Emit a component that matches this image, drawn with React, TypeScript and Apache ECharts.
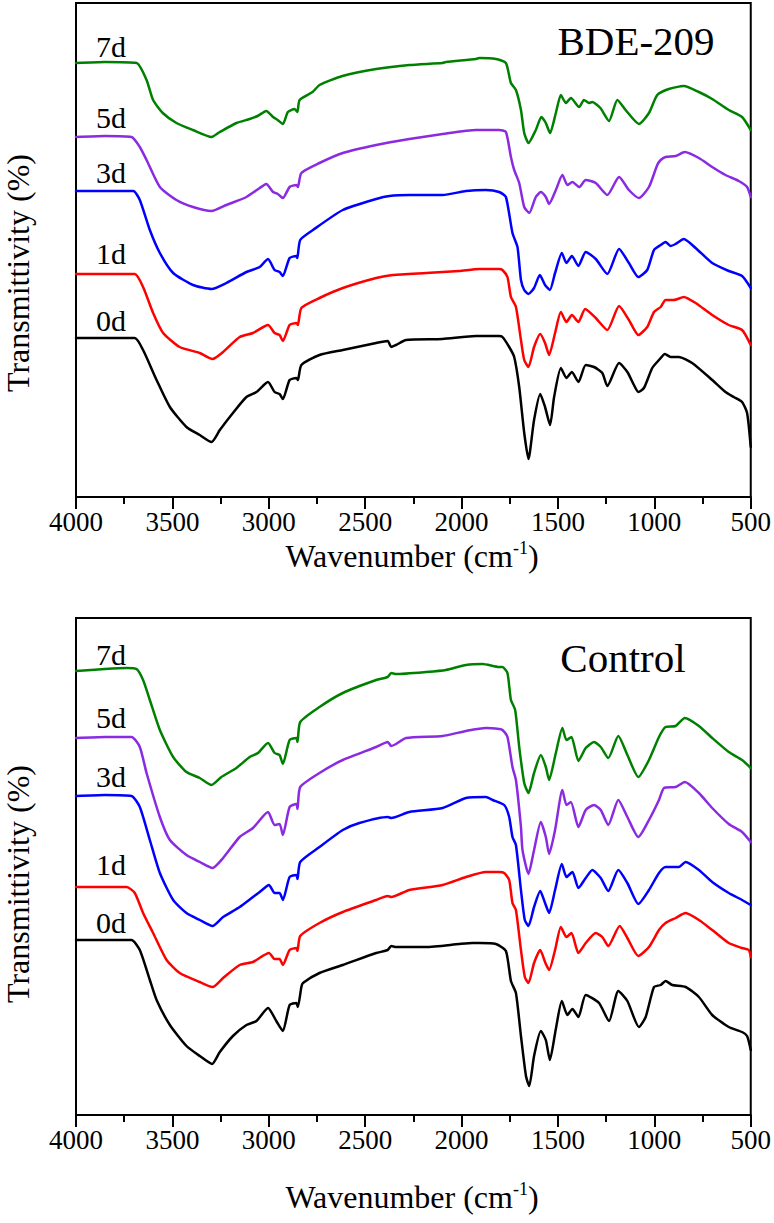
import { useEffect, useRef } from "react";
import * as echarts from "echarts";

type P = [number, number];

// ---- Panel 1 (BDE-209): [wavenumber cm-1, offset transmittance (a.u.)]
const bde0d: P[] = [[4000,159],[3850,159],[3695,159],[3652,147],[3582,117],[3513,90],[3427,70],[3358,62],[3297,55],[3254,67],[3186,84],[3116,100],[3064,105],[3004,115],[2970,105],[2944,103],[2927,98],[2892,117],[2857,119],[2849,117],[2831,132],[2737,142],[2616,147],[2443,154],[2383,156],[2365,150],[2340,152],[2288,157],[2100,158],[1925,161],[1805,161],[1788,160],[1753,150],[1727,140],[1701,110],[1675,64],[1653,38],[1624,77],[1592,103],[1567,90],[1541,72],[1520,100],[1485,129],[1456,119],[1428,125],[1394,115],[1356,132],[1313,130],[1270,124],[1244,111],[1183,134],[1140,125],[1106,112],[1083,105],[1054,109],[1011,129],[976,137],[945,143],[916,140],[873,140],[804,134],[700,117],[631,105],[588,100],[545,95],[519,84],[500,50]];
const bde1d: P[] = [[4000,223],[3850,223],[3695,223],[3652,210],[3600,184],[3548,164],[3462,150],[3358,144],[3292,138],[3237,145],[3151,160],[3082,164],[3004,172],[2970,164],[2944,162],[2927,156],[2892,172],[2857,174],[2849,172],[2831,189],[2737,199],[2616,209],[2443,219],[2357,222],[2184,224],[2012,226],[1908,228],[1805,228],[1788,227],[1762,220],[1744,200],[1718,190],[1692,157],[1675,137],[1653,130],[1624,150],[1592,163],[1567,154],[1546,142],[1515,164],[1485,185],[1456,175],[1428,182],[1394,175],[1359,188],[1304,179],[1244,167],[1183,191],[1132,177],[1083,162],[1037,170],[1002,185],[967,190],[942,197],[899,197],[847,200],[786,194],[700,182],[614,172],[545,167],[500,152]];
const bde3d: P[] = [[4000,306],[3850,306],[3703,306],[3669,297],[3617,267],[3565,244],[3496,224],[3393,212],[3297,208],[3220,214],[3116,225],[3047,230],[3004,238],[2970,227],[2944,225],[2927,221],[2892,239],[2857,241],[2852,239],[2837,257],[2771,267],[2616,287],[2443,298],[2374,301],[2271,302],[2098,302],[1977,306],[1874,307],[1805,305],[1770,300],[1736,264],[1710,250],[1692,217],[1675,207],[1653,203],[1624,209],[1594,222],[1567,212],[1542,207],[1515,224],[1480,244],[1456,234],[1428,241],[1394,231],[1356,245],[1304,238],[1244,223],[1183,248],[1132,234],[1083,220],[1037,227],[1002,247],[967,252],[942,255],[916,251],[890,253],[847,258],[786,249],[700,234],[614,226],[545,221],[500,209]];
const bde5d: P[] = [[4000,360],[3850,361],[3712,360],[3669,350],[3634,337],[3565,310],[3479,297],[3393,290],[3297,286],[3220,292],[3116,300],[3047,309],[3013,313],[2978,305],[2953,303],[2927,299],[2892,310],[2857,312],[2849,310],[2831,324],[2737,334],[2616,344],[2443,352],[2271,358],[2098,363],[1925,367],[1805,367],[1770,365],[1744,340],[1727,327],[1701,314],[1675,290],[1649,284],[1615,300],[1589,305],[1563,300],[1546,293],[1511,307],[1477,322],[1451,312],[1425,315],[1390,310],[1356,317],[1304,314],[1244,302],[1183,320],[1132,307],[1080,299],[1028,310],[985,332],[967,337],[942,340],[890,341],[842,345],[769,339],[700,330],[631,322],[562,316],[519,310],[500,300]];
const bde7d: P[] = [[4000,434],[3850,435],[3686,434],[3634,417],[3600,397],[3550,384],[3479,374],[3394,367],[3297,360],[3254,365],[3168,374],[3099,378],[3058,381],[3013,386],[2978,380],[2954,377],[2927,373],[2901,385],[2866,388],[2852,385],[2840,397],[2773,405],[2737,412],[2618,421],[2443,428],[2271,432],[2100,434],[2081,435],[1925,438],[1908,439],[1822,438],[1770,434],[1744,414],[1718,407],[1692,387],[1675,364],[1653,354],[1615,367],[1586,380],[1563,374],[1541,364],[1511,384],[1485,402],[1459,394],[1433,399],[1390,390],[1365,397],[1339,394],[1322,395],[1280,389],[1235,376],[1192,397],[1149,387],[1080,373],[1028,384],[985,402],[925,408],[847,411],[769,405],[700,398],[614,387],[545,380],[500,367]];

// ---- Panel 2 (Control)
const ctl0d: P[] = [[4000,175],[3850,175],[3712,175],[3669,165],[3617,135],[3582,115],[3513,90],[3427,69],[3358,59],[3294,51],[3254,63],[3186,79],[3116,90],[3064,94],[3004,107],[2961,94],[2927,84],[2892,110],[2857,112],[2849,108],[2831,128],[2823,132],[2737,142],[2616,150],[2443,162],[2383,165],[2365,169],[2340,168],[2184,168],[2012,171],[1943,172],[1908,172],[1822,171],[1770,164],[1744,134],[1718,122],[1692,79],[1666,39],[1649,29],[1624,59],[1589,84],[1563,75],[1542,55],[1511,86],[1480,114],[1451,100],[1425,106],[1394,98],[1356,120],[1287,112],[1235,94],[1187,124],[1140,114],[1080,88],[1045,98],[1002,128],[967,130],[942,134],[907,130],[838,128],[769,118],[700,100],[614,88],[545,83],[519,79],[500,65]];
const ctl1d: P[] = [[4000,228],[3850,228],[3737,228],[3695,222],[3652,202],[3600,182],[3530,155],[3462,142],[3358,133],[3292,128],[3237,137],[3151,150],[3082,153],[2999,162],[2970,156],[2944,156],[2927,150],[2892,165],[2857,167],[2851,164],[2837,179],[2737,192],[2616,203],[2443,215],[2383,219],[2365,218],[2271,225],[2098,230],[1977,238],[1874,243],[1805,243],[1779,242],[1753,235],[1736,212],[1718,205],[1692,165],[1672,138],[1653,132],[1624,152],[1592,165],[1567,153],[1546,145],[1515,165],[1485,188],[1456,178],[1430,182],[1394,162],[1356,172],[1304,182],[1270,178],[1239,169],[1180,189],[1140,177],[1083,159],[1028,168],[976,185],[942,192],[890,197],[838,202],[769,195],[700,185],[614,172],[545,167],[510,165],[500,158]];
const ctl3d: P[] = [[4000,319],[3850,320],[3712,319],[3669,308],[3617,275],[3565,242],[3496,215],[3427,202],[3358,195],[3292,189],[3237,198],[3151,208],[3082,218],[3047,223],[2999,230],[2970,222],[2944,222],[2927,215],[2892,238],[2857,240],[2851,236],[2837,253],[2737,268],[2616,285],[2530,292],[2383,298],[2365,297],[2271,303],[2098,307],[1977,317],[1874,318],[1839,315],[1779,310],[1753,298],[1736,278],[1718,270],[1692,225],[1672,195],[1653,189],[1624,208],[1592,224],[1567,212],[1546,202],[1515,225],[1480,251],[1456,238],[1425,243],[1394,227],[1356,237],[1322,245],[1278,237],[1239,224],[1187,245],[1140,232],[1083,211],[1028,225],[976,242],[942,248],[873,248],[838,253],[769,245],[700,233],[614,222],[545,215],[500,210]];
const ctl5d: P[] = [[4000,377],[3850,378],[3712,378],[3669,368],[3634,342],[3565,298],[3513,275],[3427,260],[3358,253],[3292,247],[3237,257],[3151,278],[3082,287],[3004,303],[2970,290],[2944,291],[2927,280],[2892,308],[2857,311],[2851,306],[2837,328],[2737,342],[2616,355],[2443,368],[2383,373],[2365,369],[2340,371],[2288,377],[2098,379],[1977,384],[1874,387],[1805,386],[1788,385],[1762,378],[1736,348],[1718,335],[1692,288],[1684,265],[1653,241],[1624,265],[1589,293],[1563,278],[1546,261],[1515,285],[1477,325],[1456,310],[1433,313],[1394,288],[1356,305],[1313,310],[1278,305],[1239,290],[1187,315],[1140,298],[1083,278],[1028,295],[976,315],[950,327],[890,328],[842,333],[769,322],[700,307],[614,291],[545,283],[500,273]];
const ctl7d: P[] = [[4000,444],[3850,446],[3737,447],[3686,446],[3652,435],[3617,415],[3565,385],[3496,358],[3427,343],[3358,337],[3297,330],[3246,338],[3168,347],[3099,358],[3056,362],[3004,372],[2970,362],[2944,360],[2927,351],[2892,375],[2857,377],[2851,373],[2837,393],[2737,408],[2616,422],[2443,435],[2383,438],[2365,442],[2340,441],[2184,443],[2081,445],[1977,450],[1891,451],[1805,448],[1788,448],[1762,442],[1744,415],[1722,405],[1701,368],[1675,332],[1653,322],[1624,342],[1589,360],[1563,348],[1546,335],[1511,362],[1477,387],[1456,375],[1430,378],[1394,354],[1356,367],[1313,373],[1278,368],[1239,357],[1187,379],[1140,360],[1083,338],[1028,355],[976,378],[942,388],[890,389],[842,397],[769,389],[700,377],[614,363],[545,355],[500,347]];

const dayLabels = ["0d", "1d", "3d", "5d", "7d"];
const lineColors = ["#000000", "#ff0000", "#0000ff", "#8a2be2", "#008000"];
const panelTitles = ["BDE-209", "Control"];
const xMin = 500;
const xMax = 4000;
const xStep = 500;

const panels: P[][][] = [
  [bde0d, bde1d, bde3d, bde5d, bde7d],
  [ctl0d, ctl1d, ctl3d, ctl5d, ctl7d],
];

const FONT = "Liberation Serif";

export default function App() {
  const ref = useRef<HTMLDivElement>(null);
  useEffect(() => {
    if (!ref.current) return;
    const chart = echarts.init(ref.current, undefined, { renderer: "svg" });

    const grids = [
      { left: 76, top: 3, width: 676, height: 494 },
      { left: 76, top: 618, width: 676, height: 497 },
    ];
    const yMax = [494, 497];

    const axisLine = { show: true, lineStyle: { color: "#000", width: 2 } };

    const series: any[] = [];
    panels.forEach((set, pi) => {
      set.forEach((d, si) => {
        series.push({
          type: "line",
          name: `${panelTitles[pi]} ${dayLabels[si]}`,
          xAxisIndex: pi,
          yAxisIndex: pi,
          data: d,
          showSymbol: false,
          symbol: "none",
          smooth: 0.2,
          lineStyle: { color: lineColors[si], width: 2.5, join: "round", cap: "round" },
          z: 3,
        });
      });
    });

    const labelY = [
      [320, 253, 172, 117, 46],
      [922, 864, 776, 717, 654],
    ];
    const graphics: any[] = [];
    labelY.forEach((ys) => {
      ys.forEach((y, si) => {
        graphics.push({
          type: "text",
          x: 111,
          y,
          style: {
            text: dayLabels[si],
            font: `30px '${FONT}'`,
            fill: "#000",
            textAlign: "center",
            textVerticalAlign: "middle",
          },
        });
      });
    });
    graphics.push(
      {
        type: "text",
        x: 636,
        y: 41,
        style: { text: panelTitles[0], font: `41px '${FONT}'`, fill: "#000", textAlign: "center", textVerticalAlign: "middle" },
      },
      {
        type: "text",
        x: 623,
        y: 658,
        style: { text: panelTitles[1], font: `41px '${FONT}'`, fill: "#000", textAlign: "center", textVerticalAlign: "middle" },
      }
    );
    [273, 884].forEach((y) => {
      graphics.push({
        type: "text",
        x: 18,
        y,
        rotation: Math.PI / 2,
        style: { text: "Transmittivity (%)", font: `32px '${FONT}'`, fill: "#000", textAlign: "center", textVerticalAlign: "middle" },
      });
    });
    [556, 1197].forEach((y) => {
      graphics.push({
        type: "text",
        x: 412,
        y,
        style: {
          text: "Wavenumber (cm{s|-1})",
          font: `32px '${FONT}'`,
          fill: "#000",
          textAlign: "center",
          textVerticalAlign: "middle",
          rich: {
            s: { fontSize: 18, fontFamily: FONT, fill: "#000", padding: [0, 0, 16, 0] } as any,
          },
        },
      });
    });

    chart.setOption({
      animation: false,
      backgroundColor: "#fff",
      grid: grids.map((g) => ({ ...g, show: true, borderColor: "#000", borderWidth: 2, backgroundColor: "transparent" })),
      xAxis: grids.map((_, i) => ({
        type: "value",
        gridIndex: i,
        min: xMin,
        max: xMax,
        interval: xStep,
        inverse: true,
        axisLine,
        axisTick: { show: true, inside: false, length: 12, lineStyle: { color: "#000", width: 2 } },
        minorTick: { show: true, splitNumber: 2, length: 7, lineStyle: { color: "#000", width: 2 } },
        splitLine: { show: false },
        minorSplitLine: { show: false },
        axisLabel: {
          show: true,
          fontFamily: FONT,
          fontSize: 27,
          color: "#000",
          margin: 11,
          showMinLabel: true,
          showMaxLabel: true,
          formatter: (v: number) => String(v),
        },
      })),
      yAxis: grids.map((_, i) => ({
        type: "value",
        gridIndex: i,
        min: 0,
        max: yMax[i],
        axisLine,
        axisTick: { show: false },
        axisLabel: { show: false },
        splitLine: { show: false },
      })),
      series,
      graphic: graphics,
    });

    return () => chart.dispose();
  }, []);

  return (
    <div
      ref={ref}
      style={{ position: "absolute", left: 0, top: 0, width: 774, height: 1223, background: "#fff" }}
    />
  );
}
